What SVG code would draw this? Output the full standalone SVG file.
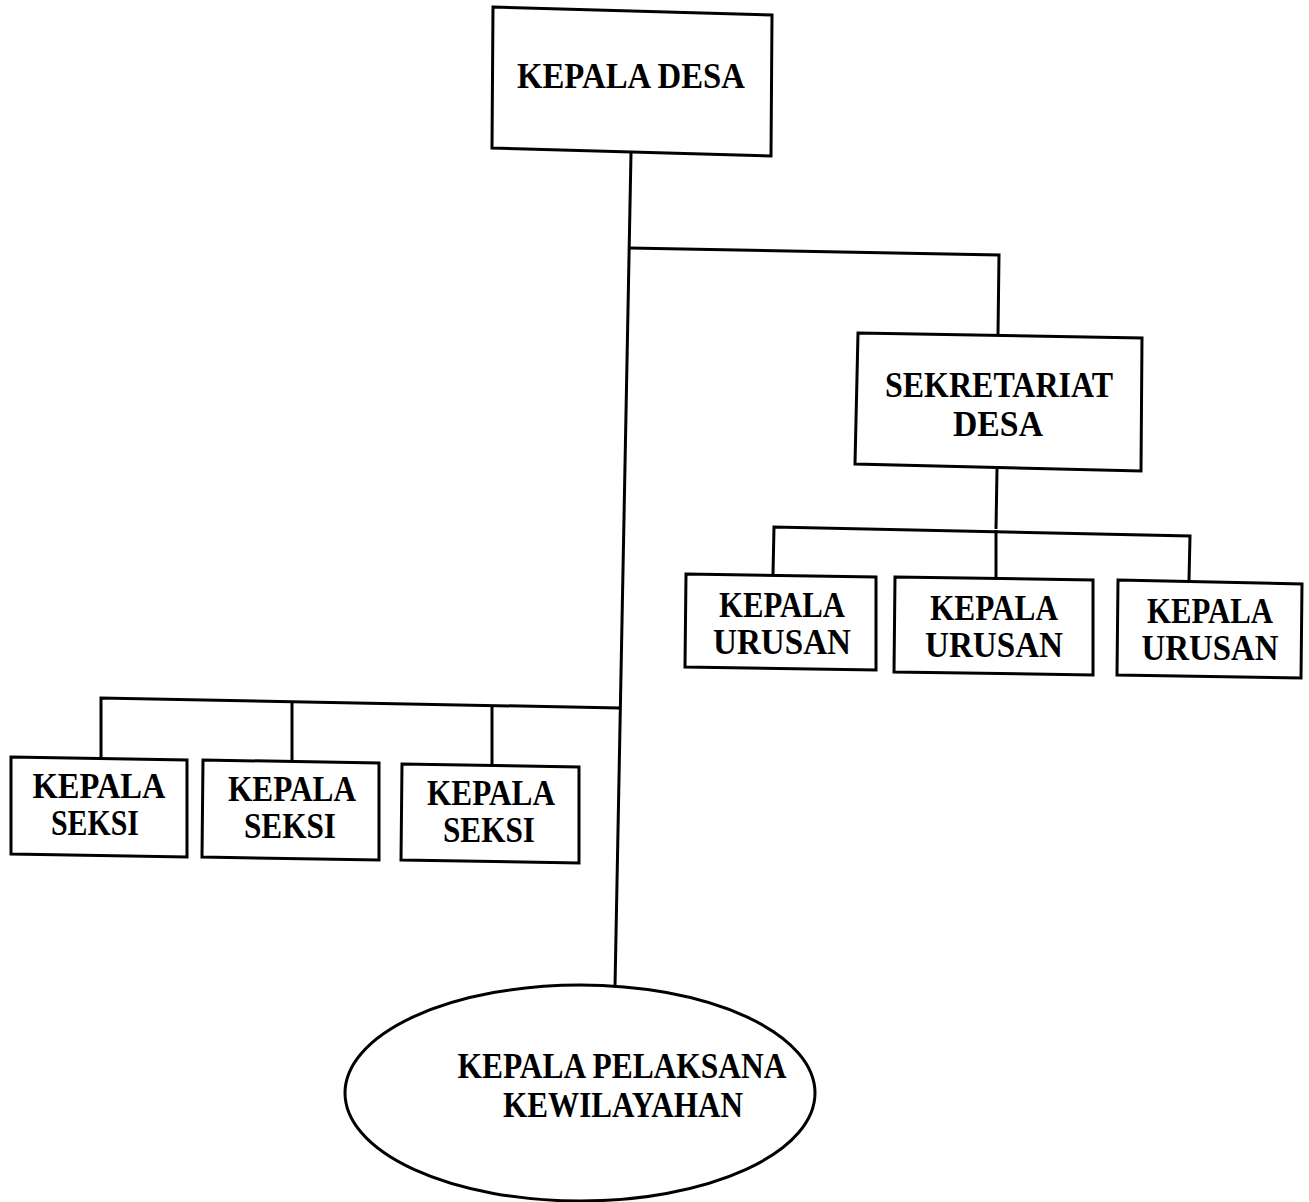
<svg xmlns="http://www.w3.org/2000/svg" width="1309" height="1202" viewBox="0 0 1309 1202">
<style>
.box{fill:#fff;stroke:#000;stroke-width:3;stroke-linejoin:miter}
.ln{fill:none;stroke:#000;stroke-width:3}
text{font-family:"Liberation Serif","DejaVu Serif",serif;font-size:35px;font-weight:bold;fill:#000;text-anchor:middle}
</style>
<rect width="1309" height="1202" fill="#fff"/>
<g id="connectors">
<polyline class="ln" points="631,153 615,987"/>
<polyline class="ln" points="629,248 999,255 998,334"/>
<polyline class="ln" points="997,469 996,529"/>
<polyline class="ln" points="773,574 774,527 1190,536 1189,580"/>
<polyline class="ln" points="996,530 996,577"/>
<polyline class="ln" points="101,757 101,698 620,708"/>
<polyline class="ln" points="292,701 292,760"/>
<polyline class="ln" points="492,705 492,765"/>
</g>
<g id="kepala-desa">
<polygon class="box" points="493,7 772,15 771,156 492,148"/>
<text x="631" y="88" textLength="228" lengthAdjust="spacingAndGlyphs">KEPALA DESA</text>
</g>
<g id="sekretariat-desa">
<polygon class="box" points="858,333 1142,338 1141,471 855,464"/>
<text x="999" y="397" textLength="228" lengthAdjust="spacingAndGlyphs">SEKRETARIAT</text>
<text x="998" y="436" textLength="90" lengthAdjust="spacingAndGlyphs">DESA</text>
</g>
<g id="urusan-1">
<polygon class="box" points="686,574 876,577 876,670 685,667"/>
<text x="782" y="617" textLength="126" lengthAdjust="spacingAndGlyphs">KEPALA</text>
<text x="782" y="654" textLength="138" lengthAdjust="spacingAndGlyphs">URUSAN</text>
</g>
<g id="urusan-2">
<polygon class="box" points="895,577 1093,580 1093,675 894,672"/>
<text x="994" y="620" textLength="128" lengthAdjust="spacingAndGlyphs">KEPALA</text>
<text x="994" y="657" textLength="138" lengthAdjust="spacingAndGlyphs">URUSAN</text>
</g>
<g id="urusan-3">
<polygon class="box" points="1118,580 1302,584 1301,678 1117,675"/>
<text x="1210" y="623" textLength="126" lengthAdjust="spacingAndGlyphs">KEPALA</text>
<text x="1210" y="660" textLength="137" lengthAdjust="spacingAndGlyphs">URUSAN</text>
</g>
<g id="seksi-1">
<polygon class="box" points="11,757 187,760 187,857 11,854"/>
<text x="99" y="798" textLength="133" lengthAdjust="spacingAndGlyphs">KEPALA</text>
<text x="95" y="835" textLength="88" lengthAdjust="spacingAndGlyphs">SEKSI</text>
</g>
<g id="seksi-2">
<polygon class="box" points="203,760 379,763 379,860 202,857"/>
<text x="292" y="801" textLength="128" lengthAdjust="spacingAndGlyphs">KEPALA</text>
<text x="290" y="838" textLength="92" lengthAdjust="spacingAndGlyphs">SEKSI</text>
</g>
<g id="seksi-3">
<polygon class="box" points="402,764 579,767 579,863 401,860"/>
<text x="491" y="805" textLength="128" lengthAdjust="spacingAndGlyphs">KEPALA</text>
<text x="489" y="842" textLength="92" lengthAdjust="spacingAndGlyphs">SEKSI</text>
</g>
<g id="kepala-pelaksana-kewilayahan">
<ellipse class="box" cx="580" cy="1093" rx="235" ry="108"/>
<text x="622" y="1078" textLength="329" lengthAdjust="spacingAndGlyphs">KEPALA PELAKSANA</text>
<text x="623" y="1117" textLength="240" lengthAdjust="spacingAndGlyphs">KEWILAYAHAN</text>
</g>
</svg>
